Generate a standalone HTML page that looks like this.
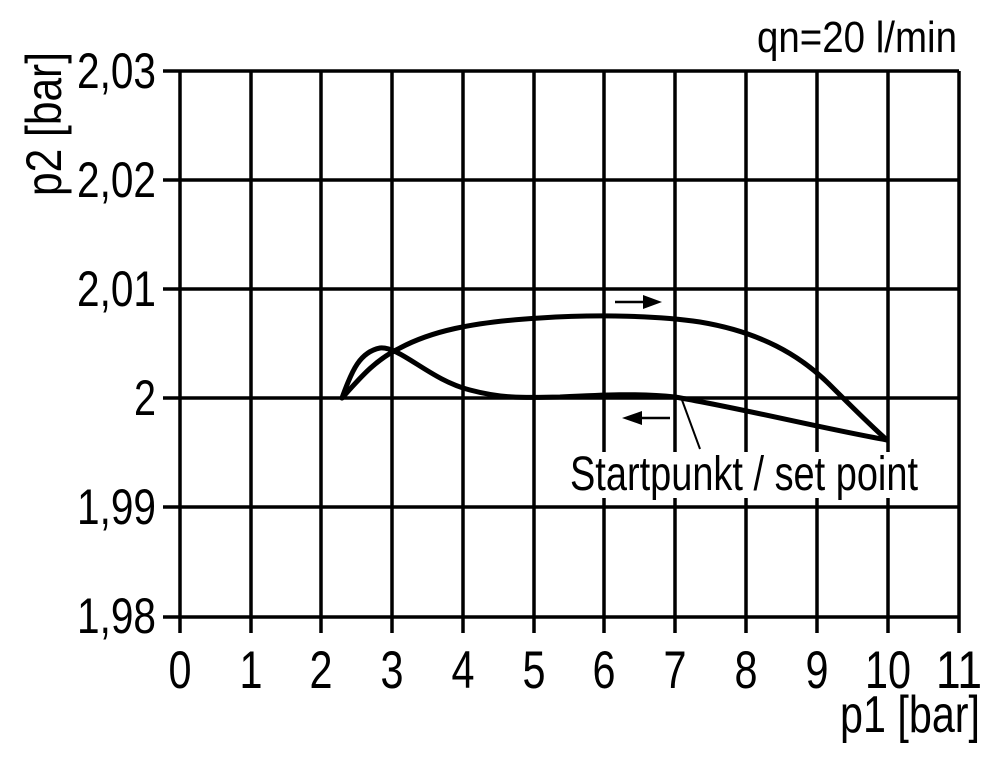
<!DOCTYPE html>
<html><head><style>html,body{margin:0;background:#fff;}</style></head><body>
<svg width="1000" height="764" xmlns="http://www.w3.org/2000/svg" font-family="Liberation Sans, sans-serif" fill="#000">
<g stroke="#000" stroke-width="3.5" fill="none">
<line x1="163" y1="71" x2="959" y2="71"/>
<line x1="163" y1="180" x2="959" y2="180"/>
<line x1="163" y1="289" x2="959" y2="289"/>
<line x1="163" y1="398" x2="959" y2="398"/>
<line x1="163" y1="507" x2="959" y2="507"/>
<line x1="163" y1="617" x2="959" y2="617"/>
<line x1="180" y1="71" x2="180" y2="633"/>
<line x1="251" y1="71" x2="251" y2="633"/>
<line x1="321" y1="71" x2="321" y2="633"/>
<line x1="392" y1="71" x2="392" y2="633"/>
<line x1="463" y1="71" x2="463" y2="633"/>
<line x1="534" y1="71" x2="534" y2="633"/>
<line x1="604" y1="71" x2="604" y2="633"/>
<line x1="675" y1="71" x2="675" y2="633"/>
<line x1="746" y1="71" x2="746" y2="633"/>
<line x1="817" y1="71" x2="817" y2="633"/>
<line x1="888" y1="71" x2="888" y2="633"/>
<line x1="959" y1="71" x2="959" y2="633"/>
</g>
<rect x="565" y="452" width="358" height="46" fill="#fff"/>
<g stroke="#000" stroke-width="5" fill="none" stroke-linejoin="round" stroke-linecap="round">
<path d="M342,398 C352,370 360,352 380,348 C400,346 430,380 470,390 C500,398 520,398 560,397 C600,395 640,393 675,397 C740,408 820,428 887,440"/>
<path d="M342,398 C360,378 375,360 400,348 C430,332 470,322 540,318 C600,314 660,316 700,322 C760,332 800,355 830,385 C850,405 870,425 887,440"/>
</g>
<line x1="682" y1="400" x2="700" y2="449" stroke="#000" stroke-width="2"/>
<line x1="615" y1="302" x2="645" y2="302" stroke="#000" stroke-width="2.5"/>
<polygon points="643,295 662,302 643,309"/>
<line x1="640" y1="418" x2="670" y2="418" stroke="#000" stroke-width="2.5"/>
<polygon points="642,411 622,418 642,425"/>
<g font-size="50" text-anchor="end">
<text x="156" y="88" textLength="79" lengthAdjust="spacingAndGlyphs">2,03</text>
<text x="156" y="197" textLength="79" lengthAdjust="spacingAndGlyphs">2,02</text>
<text x="156" y="306" textLength="79" lengthAdjust="spacingAndGlyphs">2,01</text>
<text x="156" y="415" textLength="22" lengthAdjust="spacingAndGlyphs">2</text>
<text x="156" y="524" textLength="79" lengthAdjust="spacingAndGlyphs">1,99</text>
<text x="156" y="633" textLength="79" lengthAdjust="spacingAndGlyphs">1,98</text>
</g>
<g font-size="53" text-anchor="middle">
<text x="180" y="688" textLength="23" lengthAdjust="spacingAndGlyphs">0</text>
<text x="251" y="688" textLength="23" lengthAdjust="spacingAndGlyphs">1</text>
<text x="321" y="688" textLength="23" lengthAdjust="spacingAndGlyphs">2</text>
<text x="392" y="688" textLength="23" lengthAdjust="spacingAndGlyphs">3</text>
<text x="463" y="688" textLength="23" lengthAdjust="spacingAndGlyphs">4</text>
<text x="534" y="688" textLength="23" lengthAdjust="spacingAndGlyphs">5</text>
<text x="604" y="688" textLength="23" lengthAdjust="spacingAndGlyphs">6</text>
<text x="675" y="688" textLength="23" lengthAdjust="spacingAndGlyphs">7</text>
<text x="746" y="688" textLength="23" lengthAdjust="spacingAndGlyphs">8</text>
<text x="817" y="688" textLength="23" lengthAdjust="spacingAndGlyphs">9</text>
<text x="888" y="688" textLength="46" lengthAdjust="spacingAndGlyphs">10</text>
<text x="959" y="688" textLength="46" lengthAdjust="spacingAndGlyphs">11</text>
</g>
<text x="840" y="732" font-size="52" textLength="140" lengthAdjust="spacingAndGlyphs">p1 [bar]</text>
<text x="757" y="52" font-size="44" textLength="200" lengthAdjust="spacingAndGlyphs">qn=20 l/min</text>
<text x="570" y="490" font-size="48" textLength="348" lengthAdjust="spacingAndGlyphs">Startpunkt / set point</text>
<text transform="translate(61,196) rotate(-90)" font-size="50" textLength="144" lengthAdjust="spacingAndGlyphs">p2 [bar]</text>
</svg>
</body></html>
